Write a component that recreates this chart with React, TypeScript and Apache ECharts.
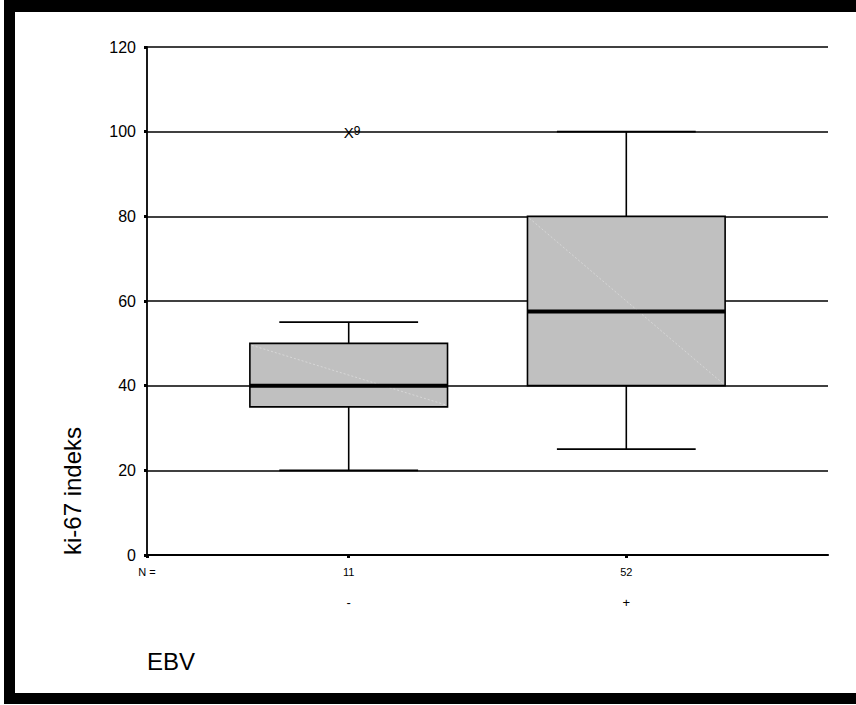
import React, { useEffect, useRef } from "react";
import * as echarts from "echarts";

// Data
const groups = ["-", "+"]; // EBV status
const nValues = [11, 52]; // N per group
// [min whisker, Q1, median, Q3, max whisker]
const boxStats = [
  [20, 35, 40, 50, 55],
  [25, 40, 57.5, 80, 100],
];
// outliers: [group index (1-based), value, case label]
const outliers: [number, number, string][] = [[1, 100, "9"]];
const yMin = 0;
const yMax = 120;
const yInterval = 20;

const FONT = "'Liberation Sans', Arial, Helvetica, sans-serif";

export default function App() {
  const ref = useRef<HTMLDivElement>(null);
  useEffect(() => {
    if (!ref.current) return;
    const chart = echarts.init(ref.current, null, { renderer: "svg" });
    const xMin = 0.2734;
    const xMax = 2.7266;
    const boxSeriesData = boxStats.map((s, i) => [i + 1, ...s]);
    const option: any = {
      animation: false,
      backgroundColor: "#ffffff",
      grid: { left: 147, right: 28, top: 47, bottom: 150, containLabel: false },
      xAxis: {
        type: "value",
        min: xMin,
        max: xMax,
        splitLine: { show: false },
        axisLine: { show: true, lineStyle: { color: "#000", width: 2.2 } },
        axisTick: {
          show: true,
          customValues: [xMin, 1, 2],
          length: 3,
          lineStyle: { color: "#000", width: 3 },
        },
        axisLabel: {
          customValues: [xMin, 1, 2],
          margin: 2,
          formatter: (v: number) => {
            const i = Math.round(v) - 1;
            if (Math.abs(v - Math.round(v)) < 1e-6 && i >= 0 && i < groups.length) {
              return `{n|${nValues[i]}}\n{g|${groups[i]}}`;
            }
            return "{n|N =}\n{g| }";
          },
          rich: {
            n: { fontSize: 11, fontFamily: FONT, color: "#000", lineHeight: 30 },
            g: { fontSize: 13, fontFamily: FONT, color: "#000", lineHeight: 30 },
          },
        },
      },
      yAxis: {
        type: "value",
        min: yMin,
        max: yMax,
        interval: yInterval,
        axisLine: { show: true, lineStyle: { color: "#000", width: 1.8 } },
        axisTick: { show: true, length: 3, lineStyle: { color: "#000", width: 3 } },
        axisLabel: { margin: 11, fontSize: 16, fontFamily: FONT, color: "#000" },
        splitLine: { show: true, lineStyle: { color: "#000", width: 1.5 } },
      },
      series: [
        {
          type: "custom",
          data: boxSeriesData,
          z: 5,
          renderItem: (params: any, api: any) => {
            const x = api.value(0);
            const lo = api.value(1);
            const q1 = api.value(2);
            const med = api.value(3);
            const q3 = api.value(4);
            const hi = api.value(5);
            const pLo = api.coord([x, lo]);
            const pQ1 = api.coord([x, q1]);
            const pMed = api.coord([x, med]);
            const pQ3 = api.coord([x, q3]);
            const pHi = api.coord([x, hi]);
            const boxW = api.size([0.712, 0])[0];
            const capW = api.size([0.5, 0])[0];
            const cx = pMed[0];
            const lineStyle = { stroke: "#000", lineWidth: 1.6 };
            return {
              type: "group",
              children: [
                { type: "line", shape: { x1: cx, y1: pHi[1], x2: cx, y2: pQ3[1] }, style: lineStyle },
                { type: "line", shape: { x1: cx, y1: pQ1[1], x2: cx, y2: pLo[1] }, style: lineStyle },
                { type: "line", shape: { x1: cx - capW / 2, y1: pHi[1], x2: cx + capW / 2, y2: pHi[1] }, style: lineStyle },
                { type: "line", shape: { x1: cx - capW / 2, y1: pLo[1], x2: cx + capW / 2, y2: pLo[1] }, style: lineStyle },
                {
                  type: "rect",
                  shape: { x: cx - boxW / 2, y: pQ3[1], width: boxW, height: pQ1[1] - pQ3[1] },
                  style: { fill: "#c0c0c0", stroke: "#000", lineWidth: 1.6 },
                },
                {
                  type: "line",
                  shape: { x1: cx - boxW / 2 + 2, y1: pQ3[1] + 2, x2: cx + boxW / 2 - 2, y2: pQ1[1] - 2 },
                  style: { stroke: "#dcdcdc", lineWidth: 0.8, lineDash: [2, 2] },
                },
                {
                  type: "line",
                  shape: { x1: cx - boxW / 2, y1: pMed[1], x2: cx + boxW / 2, y2: pMed[1] },
                  style: { stroke: "#000", lineWidth: 4 },
                },
              ],
            };
          },
        },
        {
          type: "custom",
          data: outliers.map((o) => [o[0], o[1], o[2]]),
          z: 6,
          renderItem: (params: any, api: any) => {
            const p = api.coord([api.value(0), api.value(1)]);
            const label = outliers[params.dataIndex][2];
            return {
              type: "group",
              children: [
                {
                  type: "text",
                  x: p[0],
                  y: p[1] + 0.5,
                  style: {
                    text: "X",
                    fontSize: 15,
                    fontFamily: FONT,
                    fill: "#000",
                    align: "center",
                    verticalAlign: "middle",
                  },
                },
                {
                  type: "text",
                  x: p[0] + 5,
                  y: p[1] - 0.5,
                  style: {
                    text: label,
                    fontSize: 12,
                    fontFamily: FONT,
                    fill: "#000",
                    align: "left",
                    verticalAlign: "middle",
                  },
                },
              ],
            };
          },
        },
      ],
      graphic: [
        { type: "rect", shape: { x: 4, y: 0, width: 852, height: 12 }, style: { fill: "#000" } },
        { type: "rect", shape: { x: 4, y: 0, width: 11, height: 704 }, style: { fill: "#000" } },
        { type: "rect", shape: { x: 4, y: 693, width: 852, height: 11 }, style: { fill: "#000" } },
        {
          type: "text",
          x: 72,
          y: 555,
          rotation: Math.PI / 2,
          style: {
            text: "ki-67 indeks",
            fontSize: 24,
            fontFamily: FONT,
            fill: "#000",
            align: "left",
            verticalAlign: "middle",
          },
        },
        {
          type: "text",
          x: 147,
          y: 661,
          style: {
            text: "EBV",
            fontSize: 24,
            fontFamily: FONT,
            fill: "#000",
            align: "left",
            verticalAlign: "middle",
          },
        },
      ],
    };
    chart.setOption(option);
    return () => chart.dispose();
  }, []);
  return (
    <div
      ref={ref}
      style={{ position: "absolute", left: 0, top: 0, width: 856, height: 705, background: "#fff" }}
    />
  );
}
